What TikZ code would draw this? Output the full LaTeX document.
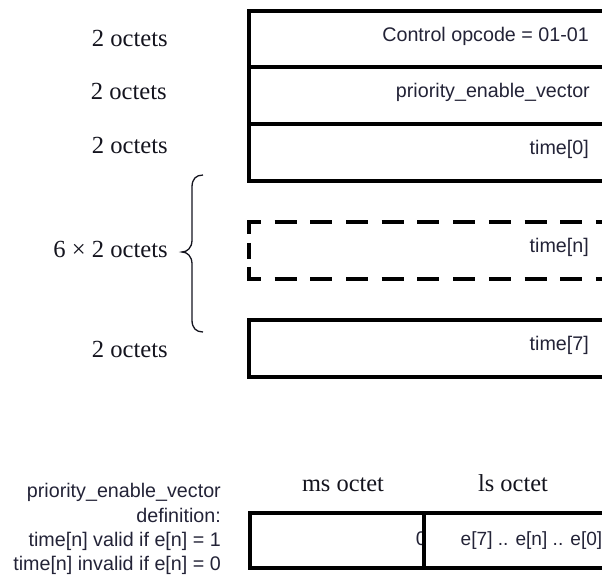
\documentclass[tikz,border=0pt]{standalone}
\usepackage{fontspec}
\setmainfont{Liberation Serif}
\setsansfont{Liberation Sans}
\definecolor{fieldtext}{RGB}{35,35,55}
\definecolor{sizetext}{RGB}{20,20,30}
\tikzset{
  frame/.style={line width=3.3pt, line join=miter},
  fieldlabel/.style={inner sep=0pt, anchor=base east, text=fieldtext,
    font=\fontsize{19.7}{24.3}\selectfont\sffamily},
  sizelabel/.style={inner sep=0pt, anchor=base east, text=sizetext,
    font=\fontsize{24.6}{29}\selectfont},
  octethead/.style={inner sep=0pt, anchor=base, text=sizetext,
    font=\fontsize{24.4}{29}\selectfont},
}
\begin{document}
\begin{tikzpicture}[x=1pt, y=-1pt]
\useasboundingbox (0,0) rectangle (602,574);

% message layout: rows run past the right edge
\coordinate (r1) at (249,11);
\coordinate (r2) at (249,67);
\coordinate (r3) at (249,124);
\coordinate (r3b) at (249,181);
\coordinate (rn) at (249,222);
\coordinate (rnb) at (249,279);
\coordinate (r7) at (249,320);
\coordinate (r7b) at (249,377);

\draw[frame] (602,11) -- (r1) -- (r3b) -- (602,181);
\draw[frame] (r2) -- (602,67);
\draw[frame] (r3) -- (602,124);

% repeated time[n] entries
\draw[frame, dash pattern=on 22pt off 13.7pt, dash phase=8.5pt] (247.4,222) -- (602,222);
\draw[frame, dash pattern=on 22pt off 13.7pt, dash phase=8.5pt] (247.4,279) -- (602,279);
\draw[frame, dash pattern=on 13.5pt off 9pt on 16pt off 8pt on 13.5pt] (249,220.4) -- (249,280.6);

\draw[frame] (602,320) -- (r7) -- (r7b) -- (602,377);

% field names
\node[fieldlabel] (f1) at (589,41.5) {Control opcode = 01-01};
\node[fieldlabel] (f2) at (590,97.5) {priority\_enable\_vector};
\node[fieldlabel] (f3) at (589,154.5) {time[0]};
\node[fieldlabel] (fn) at (589,252.5) {time[n]};
\node[fieldlabel] (f7) at (589,350.5) {time[7]};

% field sizes
\node[sizelabel] (s1) at (168,46) {2 octets};
\node[sizelabel] (s2) at (167,99.5) {2 octets};
\node[sizelabel] (s3) at (168,153.5) {2 octets};
\node[sizelabel] (sn) at (168,257.5) {6 × 2 octets};
\node[sizelabel] (s7) at (168,357) {2 octets};

% brace over the six repeated entries
\draw[line width=1.3pt, color=sizetext]
  (203,175) .. controls (196,175) and (192,179) .. (192,187) -- (192,240)
  .. controls (192,248) and (187,252) .. (182,252)
  .. controls (187,252) and (192,256) .. (192,264) -- (192,320)
  .. controls (192,328) and (196,332) .. (203,332);

% priority_enable_vector definition
\node[octethead] (ms) at (343,491.5) {ms octet};
\node[octethead] (ls) at (513,491.5) {ls octet};
\node[fieldlabel] (zero) at (427,545) {0};
\node[fieldlabel, anchor=base west, font=\fontsize{19.1}{24}\selectfont\sffamily]
  (bits) at (460.5,545) {e[7] .. e[n] .. e[0]};
\draw[frame] (602,513) -- (250,513) -- (250,568) -- (602,568);
\draw[frame] (424,513) -- (424,568);

\node[fieldlabel] (def1) at (221,497) {priority\_enable\_vector};
\node[fieldlabel] (def2) at (221,522.5) {definition:};
\node[fieldlabel] (def3) at (221,546.5) {time[n] valid if e[n] = 1};
\node[fieldlabel] (def4) at (221,570) {time[n] invalid if e[n] = 0};
\end{tikzpicture}
\end{document}
